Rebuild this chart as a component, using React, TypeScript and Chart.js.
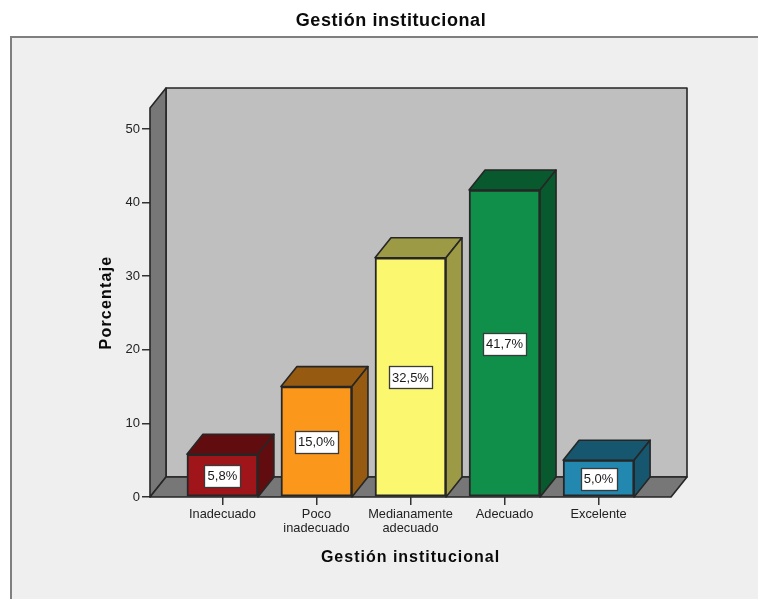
import React, { useEffect, useRef } from "react";
import { Chart, registerables } from "chart.js";

Chart.register(...registerables);

const chartTitle = "Gestión institucional";
const xTitle = "Gestión institucional";
const yTitle = "Porcentaje";
const categories: string[][] = [["Inadecuado"], ["Poco", "inadecuado"], ["Medianamente", "adecuado"], ["Adecuado"], ["Excelente"]];
const values = [5.8, 15.0, 32.5, 41.7, 5.0];
const yTicks = [0, 10, 20, 30, 40, 50];
const xPositions = [0, 1, 2, 3, 4];
const frontColors = ["#a01519", "#fb981c", "#fbf870", "#0f8f4a", "#2288b0"];
const sideColors = ["#610d10", "#965b11", "#9c9a45", "#085a2e", "#16566e"];

const DX = 16;
const DY = -20;
const LINE = "#262626";
const FONT = '"Liberation Sans", Arial, sans-serif';

function poly(ctx: CanvasRenderingContext2D, pts: number[][], fill: string) {
  ctx.beginPath();
  pts.forEach((p, i) => (i ? ctx.lineTo(p[0], p[1]) : ctx.moveTo(p[0], p[1])));
  ctx.closePath();
  ctx.fillStyle = fill;
  ctx.fill();
  ctx.strokeStyle = LINE;
  ctx.lineWidth = 1.6;
  ctx.lineJoin = "round";
  ctx.stroke();
}

function spaced(ctx: any, target: any, method: string, spacing: string) {
  const orig = target[method].bind(target);
  target[method] = (...args: any[]) => {
    ctx.letterSpacing = spacing;
    orig(...args);
    ctx.letterSpacing = "0px";
  };
}

const scene = {
  id: "scene",
  afterInit(chart: any) {
    spaced(chart.ctx, chart.titleBlock, "draw", "0.6px");
  },
  beforeDraw(chart: any) {
    const c: CanvasRenderingContext2D = chart.ctx;
    c.save();
    c.fillStyle = "#efefef";
    c.fillRect(11, 37, 760, 580);
    c.strokeStyle = "#7f7f7f";
    c.lineWidth = 2;
    c.strokeRect(11, 37, 780, 600);
    c.restore();
  },
  afterLayout(chart: any) {
    const t = chart.titleBlock;
    t.left = 24;
    t.right = 758;
    if (!chart.$spaced) {
      chart.$spaced = true;
      spaced(chart.ctx, chart.scales.x, "drawTitle", "1px");
      spaced(chart.ctx, chart.scales.y, "drawTitle", "1.2px");
    }
  },
  beforeDatasetsDraw(chart: any) {
    const c: CanvasRenderingContext2D = chart.ctx;
    const { left: l, right: r, top: t, bottom: b } = chart.chartArea;
    c.save();
    poly(c, [[l + DX, t + DY], [r + DX, t + DY], [r + DX, b + DY], [l + DX, b + DY]], "#bfbfbf");
    poly(c, [[l, t], [l + DX, t + DY], [l + DX, b + DY], [l, b]], "#777777");
    poly(c, [[l, b], [l + DX, b + DY], [r + DX, b + DY], [r, b]], "#777777");
    chart.getDatasetMeta(0).data.forEach((bar: any, i: number) => {
      const x0 = bar.x - bar.width / 2;
      const x1 = bar.x + bar.width / 2;
      poly(c, [[x0, bar.y], [x0 + DX, bar.y + DY], [x1 + DX, bar.y + DY], [x1, bar.y]], sideColors[i]);
      poly(c, [[x1, bar.y], [x1 + DX, bar.y + DY], [x1 + DX, b + DY], [x1, b]], sideColors[i]);
    });
    c.restore();
  },
  afterDatasetsDraw(chart: any) {
    const c: CanvasRenderingContext2D = chart.ctx;
    const b = chart.chartArea.bottom;
    c.save();
    c.font = `13px ${FONT}`;
    c.textAlign = "center";
    c.textBaseline = "middle";
    chart.getDatasetMeta(0).data.forEach((bar: any, i: number) => {
      const cy = (bar.y + b) / 2;
      const label = values[i].toFixed(1).replace(".", ",") + "%";
      const w = Math.round(c.measureText(label).width) + 6;
      const h = 22;
      const bx = Math.round(bar.x - w / 2);
      const by = Math.round(cy - h / 2);
      c.fillStyle = "#ffffff";
      c.fillRect(bx, by, w, h);
      c.strokeStyle = "#3a3a3a";
      c.lineWidth = 1.3;
      c.strokeRect(bx + 0.5, by + 0.5, w, h);
      c.fillStyle = "#1a1a1a";
      c.fillText(label, bar.x, cy + 1);
    });
    c.restore();
  },
};

export default function App() {
  const ref = useRef<HTMLCanvasElement>(null);
  useEffect(() => {
    const chart = new Chart(ref.current as HTMLCanvasElement, {
      type: "bar",
      data: {
        datasets: [
          {
            data: xPositions.map((x, i) => ({ x, y: values[i] })),
            backgroundColor: frontColors,
            borderColor: LINE,
            borderWidth: 2,
            borderSkipped: false,
            barThickness: 71,
          },
        ],
      } as any,
      plugins: [scene],
      options: {
        responsive: false,
        animation: false,
        layout: { padding: { left: 97, right: 87, top: 0, bottom: 0 } },
        plugins: {
          legend: { display: false },
          tooltip: { enabled: false },
          title: {
            display: true,
            text: chartTitle,
            color: "#0a0a0a",
            font: { family: FONT, size: 18, weight: "bold", lineHeight: 1.2 },
            padding: { top: 10, bottom: 76.4 },
          },
        },
        scales: {
          x: {
            type: "linear",
            offset: false,
            min: -0.77,
            max: 4.77,
            afterFit: (s: any) => { s.height = 102; },
            afterBuildTicks: (s: any) => { s.ticks = xPositions.map((value) => ({ value })); },
            border: { display: false },
            grid: { offset: false, drawOnChartArea: false, drawTicks: true, tickLength: 8, tickColor: "#333333", lineWidth: 1.5 },
            ticks: {
              autoSkip: false,
              maxRotation: 0,
              padding: 2,
              color: "#222222",
              font: { family: FONT, size: 12.8, lineHeight: 1.12 },
              callback: (v: any) => categories[Number(v)],
            },
            title: {
              display: true,
              text: xTitle,
              color: "#0a0a0a",
              font: { family: FONT, size: 16, weight: "bold", lineHeight: 1.2 },
              padding: { top: 0, bottom: 32 },
            },
          },
          y: {
            min: 0,
            max: 52.85,
            afterFit: (s: any) => { s.width = 53; },
            afterBuildTicks: (s: any) => { s.ticks = yTicks.map((value) => ({ value })); },
            border: { display: false },
            grid: { drawOnChartArea: false, drawTicks: true, tickLength: 8, tickColor: "#333333", lineWidth: 1.5 },
            ticks: {
              autoSkip: false,
              padding: 2,
              color: "#222222",
              font: { family: FONT, size: 13 },
            },
            title: {
              display: true,
              text: yTitle,
              color: "#0a0a0a",
              font: { family: FONT, size: 16, weight: "bold", lineHeight: 1.2 },
              padding: { top: 0, bottom: 0 },
            },
          },
        },
      },
    } as any);
    return () => chart.destroy();
  }, []);
  return (
    <div style={{ position: "fixed", left: 0, top: 0 }}>
      <canvas ref={ref} width={758} height={599} style={{ display: "block" }} />
    </div>
  );
}
